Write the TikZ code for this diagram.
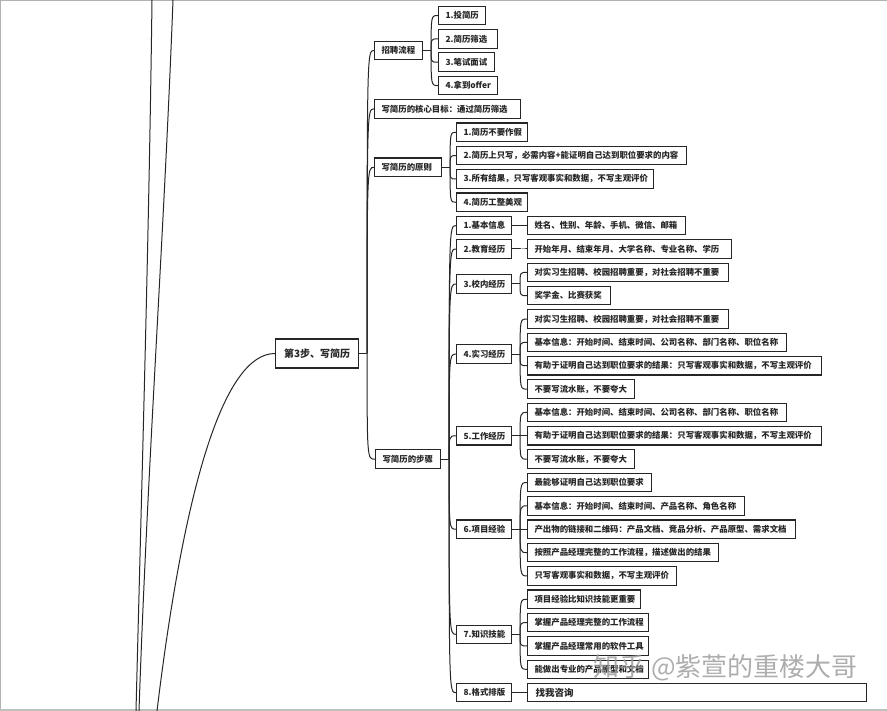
\documentclass[tikz,border=0pt]{standalone}
\usepackage{fontspec}
\setmainfont{Noto Sans CJK SC}
\tikzset{
  bx/.style={draw=black!85, line width=1.1pt, fill=white, rectangle, anchor=west,
    minimum height=18.5pt, inner xsep=7pt, inner ysep=0pt,
    font=\fontsize{8.4}{10}\selectfont\bfseries, text=black!85},
  w/.style={minimum width=#1pt, text width=#1pt-14pt, align=left},
  ln/.style={draw=black!85, line width=1pt},
  frame/.style={draw=black!30, line width=1pt},
}
\newcommand\conn[2]{\draw[ln] (#1) .. controls (#1 |- #2.west) .. (#2.west);}
\begin{document}
\begin{tikzpicture}[x=1pt,y=-1pt]
\useasboundingbox (0,0) rectangle (887,711);
% frame of the screenshot
\draw[frame] (0,0.5) -- (887,0.5);
\draw[frame] (0.5,0) -- (0.5,711);
\fill[black!25] (0,708.5) rectangle (887,711);

% long branches coming from outside the view
\coordinate (la0) at (152,0);
\coordinate (la1) at (136,711);
\coordinate (lb0) at (173,0);
\coordinate (lb1) at (139,711);
\coordinate (lc1) at (157,711);
\draw[ln] (la0) .. controls (149,237) and (142,474) .. (la1);
\draw[ln] (lb0) .. controls (164,237) and (147,474) .. (lb1);

% main node
\node[bx, minimum width=83pt, minimum height=29pt, font=\fontsize{10}{12}\selectfont\bfseries] (m) at (275,353.5) {第3步、写简历};
\draw[ln] (m.west) .. controls (225,353.5) and (185,480) .. (lc1);

% level 1
\node[bx, w=48] (b1) at (374,50.5) {招聘流程};
\node[bx, w=146] (b2) at (374,108.9) {写简历的核心目标：通过简历筛选};
\node[bx, w=67] (b3) at (374,167.3) {写简历的原则};
\node[bx, w=65] (b4) at (375,459.2) {写简历的步骤};

% children of b1
\node[bx, w=47] (c11) at (438,15.5) {1.投简历};
\node[bx, w=59] (c12) at (438,38.85) {2.简历筛选};
\node[bx, w=56] (c13) at (438,62.2) {3.笔试面试};
\node[bx, w=59] (c14) at (438,85.55) {4.拿到offer};

% children of b3
\node[bx, w=71] (c31) at (456,132.25) {1.简历不要作假};
\node[bx, w=230] (c32) at (456,155.6) {2.简历上只写，必需内容+能证明自己达到职位要求的内容};
\node[bx, w=197] (c33) at (456,178.95) {3.所有结果，只写客观事实和数据，不写主观评价};
\node[bx, w=71] (c34) at (456,202.3) {4.简历工整美观};

% steps
\node[bx, w=55] (s1) at (456,225.65) {1.基本信息};
\node[bx, w=55] (s2) at (456,249.0) {2.教育经历};
\node[bx, w=55] (s3) at (456,284.0) {3.校内经历};
\node[bx, w=55] (s4) at (456,354.1) {4.实习经历};
\node[bx, w=55] (s5) at (456,435.8) {5.工作经历};
\node[bx, w=55] (s6) at (456,529.2) {6.项目经验};
\node[bx, w=55] (s7) at (456,634.3) {7.知识技能};
\node[bx, w=55] (s8) at (456,692.65) {8.格式排版};

% level 3
\node[bx, w=158] (t11) at (527,225.65) {姓名、性别、年龄、手机、微信、邮箱};
\node[bx, w=204] (t21) at (527,249.0) {开始年月、结束年月、大学名称、专业名称、学历};
\node[bx, w=201] (t31) at (527,272.35) {对实习生招聘、校园招聘重要，对社会招聘不重要};
\node[bx, w=83] (t32) at (527,295.7) {奖学金、比赛获奖};
\node[bx, w=201] (t41) at (527,319.05) {对实习生招聘、校园招聘重要，对社会招聘不重要};
\node[bx, w=259] (t42) at (527,342.4) {基本信息：开始时间、结束时间、公司名称、部门名称、职位名称};
\node[bx, w=294] (t43) at (527,365.75) {有助于证明自己达到职位要求的结果：只写客观事实和数据，不写主观评价};
\node[bx, w=107] (t44) at (527,389.1) {不要写流水账，不要夸大};
\node[bx, w=259] (t51) at (527,412.45) {基本信息：开始时间、结束时间、公司名称、部门名称、职位名称};
\node[bx, w=294] (t52) at (527,435.8) {有助于证明自己达到职位要求的结果：只写客观事实和数据，不写主观评价};
\node[bx, w=107] (t53) at (527,459.15) {不要写流水账，不要夸大};
\node[bx, w=124] (t61) at (527,482.5) {最能够证明自己达到职位要求};
\node[bx, w=217] (t62) at (527,505.85) {基本信息：开始时间、结束时间、产品名称、角色名称};
\node[bx, w=268] (t63) at (527,529.2) {产出物的链接和二维码：产品文档、竞品分析、产品原型、需求文档};
\node[bx, w=191] (t64) at (527,552.55) {按照产品经理完整的工作流程，描述做出的结果};
\node[bx, w=149] (t65) at (527,575.9) {只写客观事实和数据，不写主观评价};
\node[bx, w=113] (t71) at (527,599.25) {项目经验比知识技能更重要};
\node[bx, w=121] (t72) at (527,622.6) {掌握产品经理完整的工作流程};
\node[bx, w=121] (t73) at (527,645.95) {掌握产品经理常用的软件工具};
\node[bx, w=121] (t74) at (527,669.3) {能做出专业的产品原型和文档};
\node[bx, w=339, inner xsep=8pt, text width=323pt, font=\fontsize{9.5}{11}\selectfont\bfseries] (t81) at (527,692.65) {找我咨询};

% junctions
\path (m.east) ++(8,0) coordinate (mj);
\path (b1.east) ++(8,0) coordinate (b1j);
\path (b3.east) ++(8,0) coordinate (b3j);
\path (b4.east) ++(8,0) coordinate (b4j);
\foreach \s in {s1,s2,s3,s4,s5,s6,s7,s8}{\path (\s.east) ++(8,0) coordinate (\s j);}
\foreach \p in {m,b1,b3,b4,s1,s2,s3,s4,s5,s6,s7,s8}{\draw[ln] (\p.east) -- (\p j);}

% connectors
\foreach \c in {b1,b2,b3,b4}{\conn{mj}{\c}}
\foreach \c in {c11,c12,c13,c14}{\conn{b1j}{\c}}
\foreach \c in {c31,c32,c33,c34}{\conn{b3j}{\c}}
\foreach \c in {s1,s2,s3,s4,s5,s6,s7,s8}{\conn{b4j}{\c}}
\conn{s1j}{t11}
\conn{s2j}{t21}
\foreach \c in {t31,t32}{\conn{s3j}{\c}}
\foreach \c in {t41,t42,t43,t44}{\conn{s4j}{\c}}
\foreach \c in {t51,t52,t53}{\conn{s5j}{\c}}
\foreach \c in {t61,t62,t63,t64,t65}{\conn{s6j}{\c}}
\foreach \c in {t71,t72,t73,t74}{\conn{s7j}{\c}}
\conn{s8j}{t81}

% watermark
\node[anchor=west, text=black!40, opacity=0.8, font=\fontsize{26}{28}\selectfont, inner sep=0pt] (wm) at (593,668) {知乎 @紫萱的重楼大哥};
\end{tikzpicture}
\end{document}
